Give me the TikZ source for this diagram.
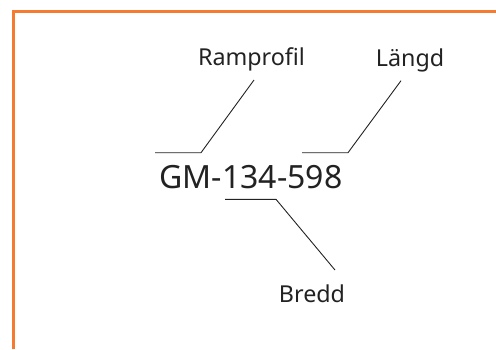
\documentclass[tikz,border=0pt]{standalone}
\usepackage{fontspec}
\setmainfont{Noto Sans}
\definecolor{frameorange}{HTML}{F47B30}
\definecolor{ink}{HTML}{222222}
\begin{document}
\begin{tikzpicture}[x=1pt,y=-1pt,
  lbl/.style={inner sep=0pt,anchor=base,text=ink,font=\fontsize{23.3}{23.3}\selectfont},
  code/.style={inner sep=0pt,anchor=base,text=ink,font=\fontsize{32}{32}\selectfont},
  leader/.style={draw=ink,line width=0.9pt},
  frame/.style={draw=frameorange,line width=3pt}]
\useasboundingbox (0,0) rectangle (496,349);
\draw[frame] (13,349) -- (13,11) -- (497,11);
\node[lbl] (ramp) at (251.5,65.5) {Ramprofil};
\node[lbl] (langd) at (410,66) {Längd};
\node[code] (gm) at (251,188.5) {GM-134-598};
\node[lbl] (bredd) at (312,302) {Bredd};
\coordinate (r0) at (155,152.7);
\coordinate (r1) at (201,152.7);
\coordinate (r2) at (254,80);
\coordinate (l0) at (302,152.7);
\coordinate (l1) at (348,152.7);
\coordinate (l2) at (401,80.7);
\coordinate (b0) at (225,199.3);
\coordinate (b1) at (276,199.3);
\coordinate (b2) at (335,270);
\draw[leader] (r0) -- (r1) -- (r2);
\draw[leader] (l0) -- (l1) -- (l2);
\draw[leader] (b0) -- (b1) -- (b2);
\end{tikzpicture}
\end{document}
